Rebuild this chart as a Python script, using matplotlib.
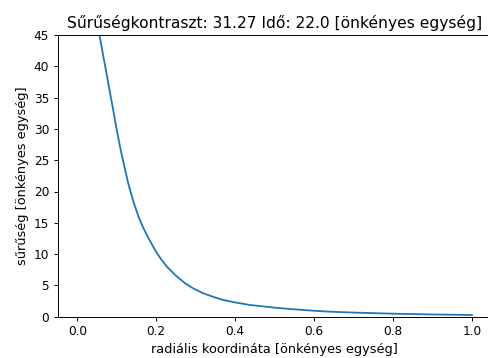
import numpy as np
import matplotlib
matplotlib.use('Agg')
import matplotlib.pyplot as plt

# radial coordinate and density
radius = [0.056, 0.075, 0.083, 0.091, 0.100, 0.110, 0.120, 0.129, 0.142, 0.155,
          0.165, 0.175, 0.186, 0.197, 0.211, 0.227, 0.250, 0.273, 0.295, 0.319,
          0.345, 0.370, 0.400, 0.438, 0.500, 0.539, 0.600, 0.640, 0.700, 0.800,
          0.900, 1.000]
density = [45.0, 38.5, 35.7, 33.0, 29.8, 26.6, 23.8, 21.3, 18.4, 16.0,
           14.5, 13.2, 11.9, 10.65, 9.3, 7.99, 6.55, 5.34, 4.48, 3.74,
           3.16, 2.67, 2.28, 1.87, 1.45, 1.23, 0.95, 0.80, 0.66, 0.48,
           0.36, 0.27]

title = 'Sűrűségkontraszt: 31.27 Idő: 22.0 [önkényes egység]'
xlabel = 'radiális koordináta [önkényes egység]'
ylabel = 'sűrűség [önkényes egység]'

s = 0.87
plt.rcParams.update({
    'font.size': 10 * s,
    'lines.linewidth': 1.5 * s,
    'axes.linewidth': 0.8 * s,
    'xtick.major.size': 3.5 * s,
    'ytick.major.size': 3.5 * s,
    'xtick.major.width': 0.8 * s,
    'ytick.major.width': 0.8 * s,
    'xtick.major.pad': 3.5 * s,
    'ytick.major.pad': 3.5 * s,
    'axes.titlepad': 6 * s,
    'axes.labelpad': 4 * s,
})

fig = plt.figure(figsize=(4.88, 3.58), dpi=100)
ax = fig.add_axes([57.6 / 488, 41.3 / 358, 434.0 / 488, 281.7 / 358])
ax.plot(radius, density, color='#1f77b4')
ax.set_xlim(-0.05, 1.05)
ax.set_ylim(0, 45)
ax.set_xticks([0.0, 0.2, 0.4, 0.6, 0.8, 1.0])
ax.set_yticks(np.arange(0, 46, 5))
ax.set_title(title, fontsize=11.2)
ax.set_xlabel(xlabel, fontsize=9.3)
ax.set_ylabel(ylabel, fontsize=9.3)

fig.savefig('out.png', dpi=100)
